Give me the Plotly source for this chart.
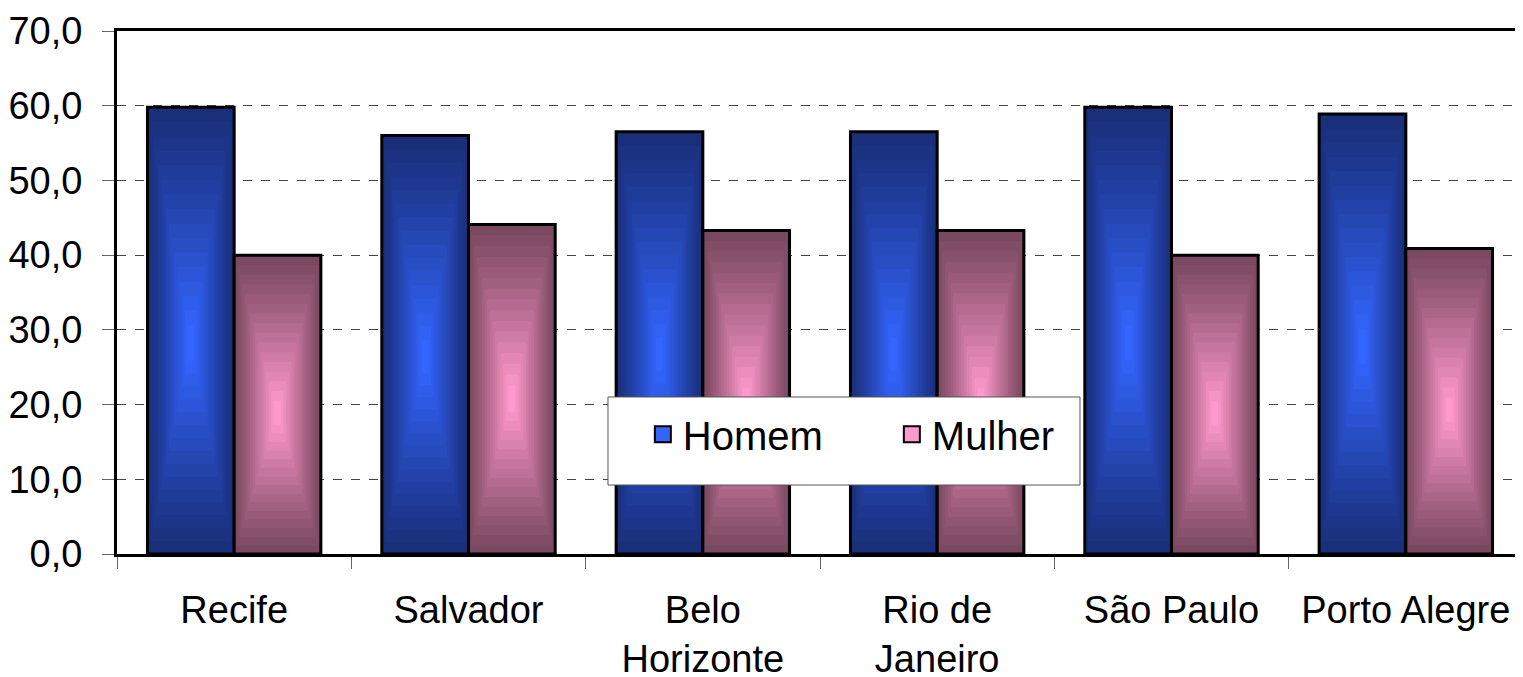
import plotly.graph_objects as go

cities = ["Recife", "Salvador", "Belo<br>Horizonte", "Rio de<br>Janeiro", "São Paulo", "Porto Alegre"]
homem = [59.8, 56.0, 56.5, 56.5, 59.8, 58.9]
mulher = [40.0, 44.1, 43.3, 43.3, 40.0, 40.9]
y_ticks = [0, 10, 20, 30, 40, 50, 60, 70]
y_tick_labels = ["0,0", "10,0", "20,0", "30,0", "40,0", "50,0", "60,0", "70,0"]

FONT = "Liberation Sans, Arial, sans-serif"
BAR_W = 0.37
series = [
    ("Homem", homem, -BAR_W, (26, 47, 122), (51, 102, 255)),
    ("Mulher", mulher, 0.0, (122, 72, 96), (255, 153, 204)),
]

fig = go.Figure()
N = 16
C = 0.47
for name, vals, off, edge, center in series:
    for k in range(N):
        t = 0.92 * k / (N - 1)
        s = (t / 0.92) ** 1.1
        col = tuple(int(round(edge[i] + (center[i] - edge[i]) * s)) for i in range(3))
        fig.add_trace(go.Bar(
            x=cities,
            y=[v * (1 - t) for v in vals],
            base=[v * C * t for v in vals],
            offset=off + BAR_W * t / 2,
            width=BAR_W * (1 - t),
            marker=dict(color="rgb(%d,%d,%d)" % col, line=dict(width=0)),
            showlegend=False, hoverinfo="skip",
        ))
    fig.add_trace(go.Bar(
        x=cities, y=vals, offset=off, width=BAR_W,
        marker=dict(color="rgba(0,0,0,0)", line=dict(color="black", width=3)),
        showlegend=False, name=name,
    ))

for name, vals, off, edge, center in series:
    fig.add_trace(go.Scatter(
        x=[None], y=[None], mode="markers", name=name,
        marker=dict(symbol="square", size=16,
                    color="rgb(%d,%d,%d)" % center,
                    line=dict(color="black", width=2)),
    ))

fig.add_shape(type="rect", xref="paper", yref="paper",
              x0=0.3492, x1=0.6849, y0=0.1319, y1=0.3002,
              fillcolor="white", line=dict(color="#555555", width=1), layer="above")

fig.update_layout(
    width=1515, height=669,
    margin=dict(l=109, r=0, t=23, b=123),
    paper_bgcolor="white", plot_bgcolor="white",
    barmode="overlay",
    font=dict(family=FONT, size=38, color="black"),
    legend=dict(
        orientation="h", x=0.374, y=0.229, xanchor="left", yanchor="middle",
        bgcolor="rgba(0,0,0,0)", borderwidth=0,
        font=dict(size=40, family=FONT, color="black"),
        itemsizing="trace", entrywidth=204,
    ),
    xaxis=dict(
        type="category", tickson="boundaries", ticks="outside", ticklen=12,
        tickcolor="#666666", tickwidth=1, automargin=False,
        showline=True, linecolor="black", linewidth=3, mirror=True,
        showgrid=False, ticklabelstandoff=20,
        tickfont=dict(size=38, family=FONT, color="black"),
    ),
    yaxis=dict(
        range=[0, 70], tickvals=y_ticks, ticktext=y_tick_labels,
        ticks="outside", ticklen=12, tickcolor="#666666", tickwidth=1,
        showline=True, linecolor="black", linewidth=3, automargin=False,
        showgrid=True, gridcolor="#444444", gridwidth=1, griddash="dash",
        zeroline=False, ticklabelstandoff=12,
        tickfont=dict(size=38, family=FONT, color="black"),
    ),
)

fig.write_html("out.html")
